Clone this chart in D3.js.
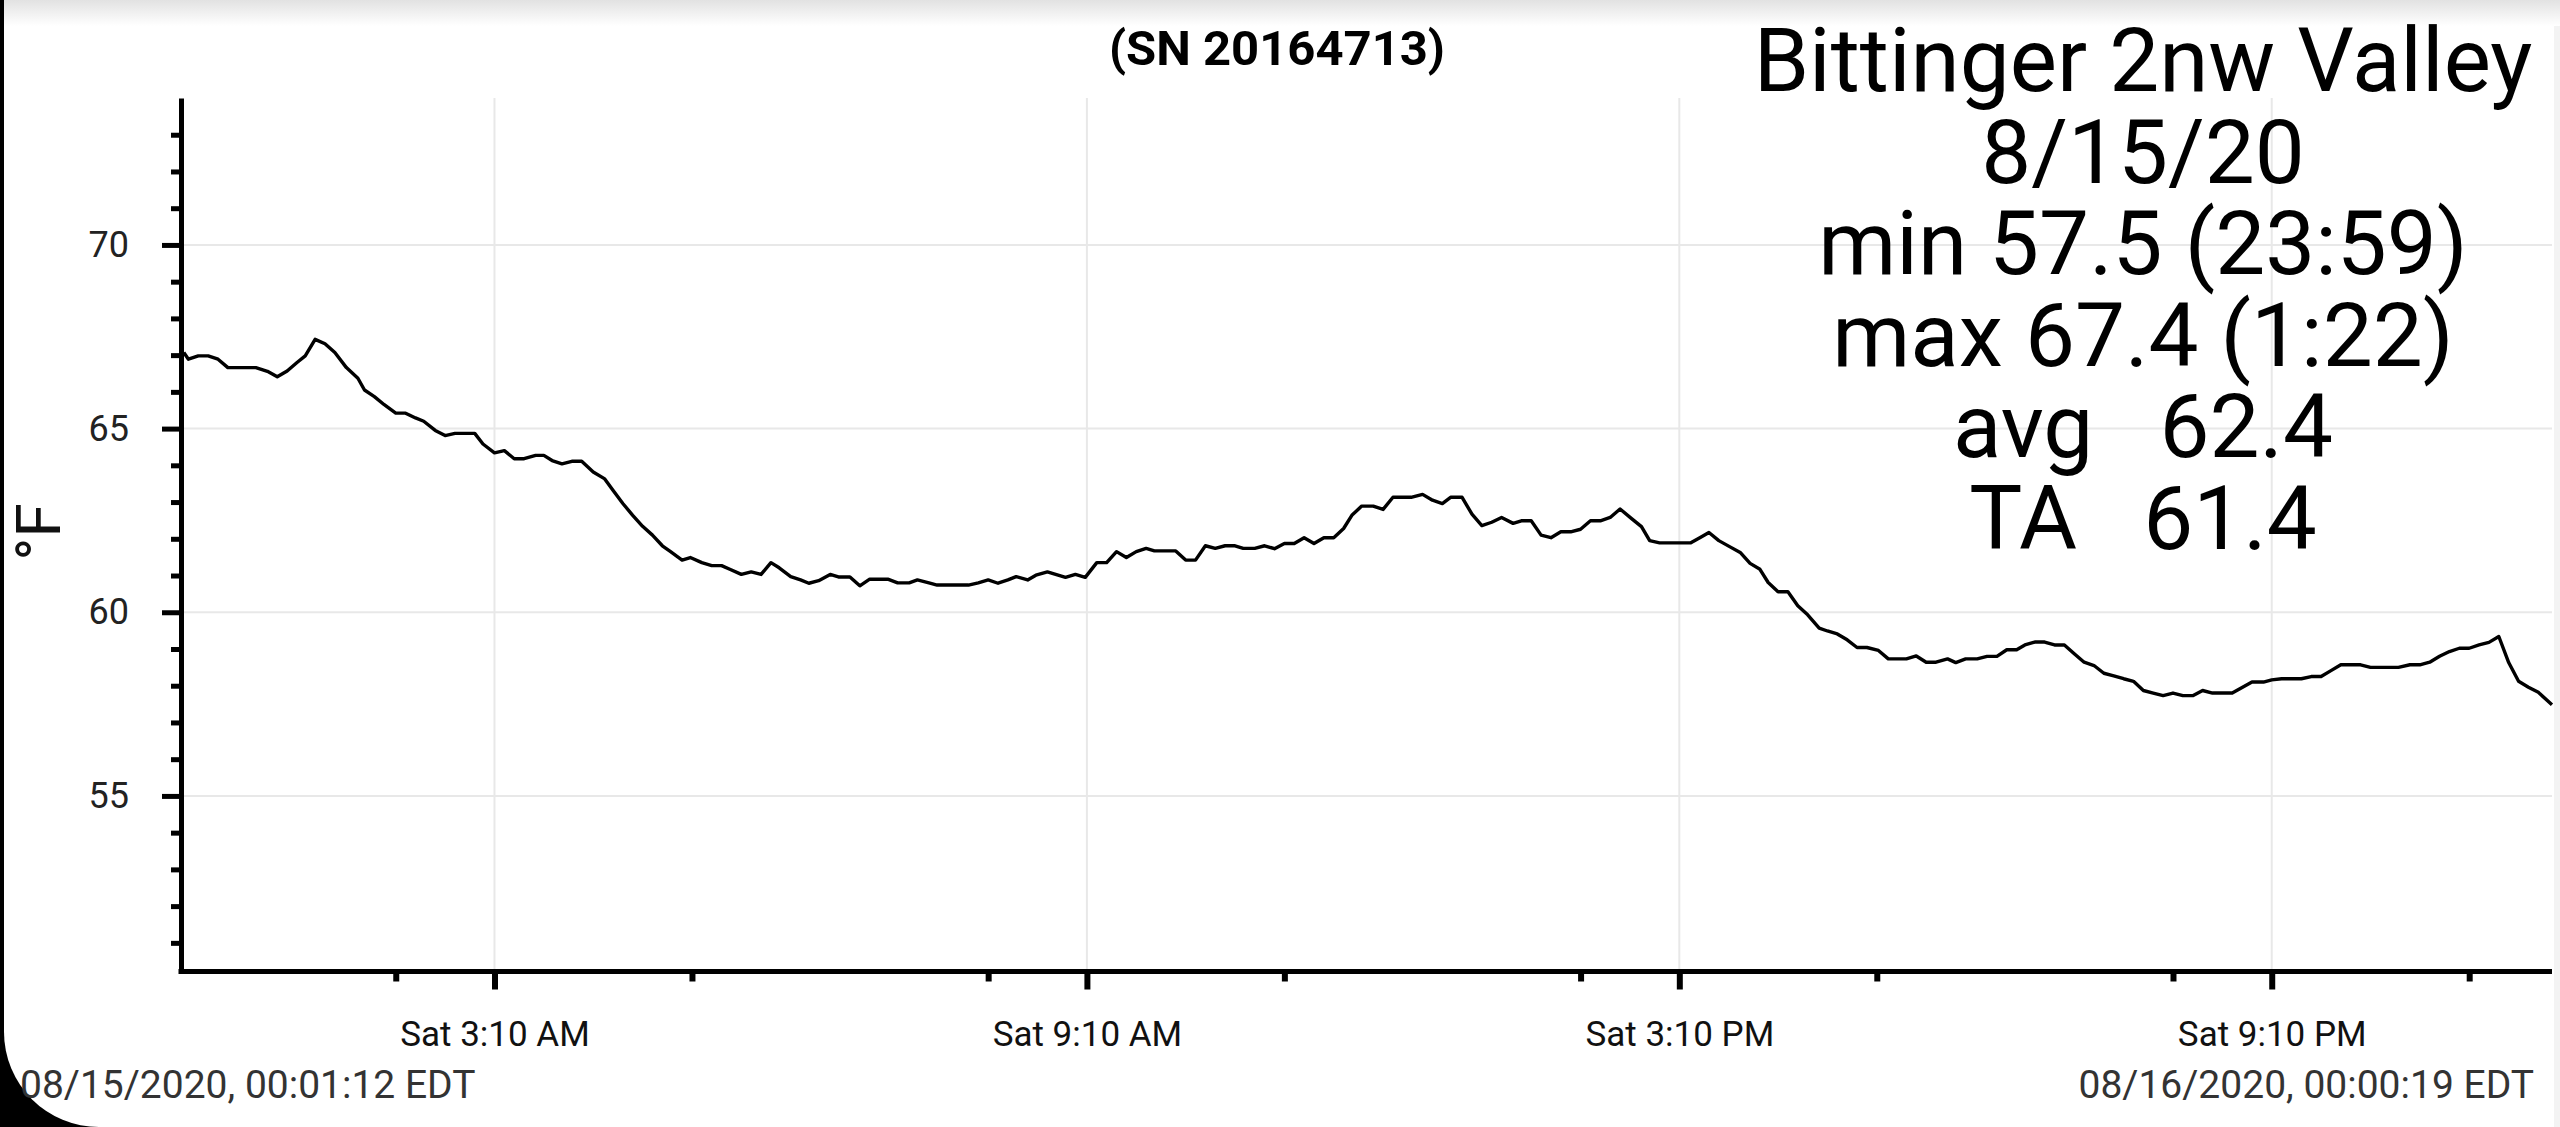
<!DOCTYPE html>
<html>
<head>
<meta charset="utf-8">
<script src="https://cdn.jsdelivr.net/npm/d3@7"></script>
<style>
    html, body { margin: 0; padding: 0; background: #000; overflow: hidden; }
    svg { display: block; font-family: Roboto, "Noto Sans", sans-serif; }
</style>
</head>
<body>
<svg id="chart" width="2560" height="1127"></svg>
<script>
// minutes after midnight 08/15/2020 and temperature (F)
var minutes = [1.2, 4, 10, 16, 22, 28, 45, 52, 58, 64, 70, 75, 81, 87, 93, 100, 107, 111, 117, 123,
    130, 136, 142, 147, 154, 160, 166, 178, 183, 190, 196, 202, 208, 215, 220, 225, 231, 237, 243, 250,
    257, 262, 268, 274, 280, 286, 292, 297, 304, 309, 316, 322, 328, 333, 340, 346, 352,
    358, 363, 370, 376, 381, 387, 394, 399, 406, 412, 418, 429, 435, 442, 447, 454, 459, 478, 484,
    490, 496, 502, 507, 514, 519, 526, 531, 537, 543, 549, 556, 562, 568, 574, 580, 586, 591, 604,
    610, 616, 622, 628, 634, 640, 645, 652, 658, 664, 670, 676, 682, 688, 694, 700, 706, 711,
    717, 724, 730, 736, 747, 754, 760, 766, 771, 778, 784, 790, 796, 802, 809, 814, 820, 826, 832,
    838, 844, 850, 856, 862, 868, 874, 881, 887, 892, 898, 917, 923, 928, 934, 940, 947, 953, 959,
    964, 970, 976, 982, 988, 995, 1000, 1006, 1012, 1018, 1024, 1031, 1037, 1048, 1054, 1060, 1066, 1073,
    1078, 1084, 1091, 1097, 1103, 1109, 1115, 1120, 1126, 1132, 1138, 1144, 1150, 1156, 1162, 1168,
    1174, 1180, 1186, 1192, 1198, 1204, 1210, 1216, 1222, 1228, 1234, 1246, 1252, 1258, 1265, 1270,
    1276, 1288, 1294, 1300, 1306, 1312, 1324, 1330, 1347, 1354, 1360, 1366, 1372, 1378, 1384, 1390,
    1396, 1402, 1408, 1414, 1420, 1426, 1432, 1440.3];
var temps = [67.07, 66.89, 66.98, 66.98, 66.89, 66.66, 66.66, 66.56, 66.41, 66.57, 66.80, 66.98, 67.43, 67.31, 67.07, 66.66, 66.37, 66.05, 65.87, 65.65,
    65.42, 65.42, 65.29, 65.20, 64.95, 64.81, 64.87, 64.87, 64.58, 64.34, 64.40, 64.18, 64.18, 64.27, 64.27, 64.13, 64.04, 64.11, 64.11, 63.82,
    63.63, 63.32, 62.96, 62.64, 62.34, 62.10, 61.81, 61.65, 61.42, 61.49, 61.35, 61.27, 61.27, 61.17, 61.03, 61.10, 61.03,
    61.35, 61.21, 60.97, 60.88, 60.79, 60.86, 61.03, 60.96, 60.96, 60.72, 60.90, 60.90, 60.80, 60.80, 60.88, 60.80, 60.74, 60.74, 60.80,
    60.88, 60.79, 60.88, 60.97, 60.88, 61.01, 61.10, 61.03, 60.95, 61.03, 60.95, 61.35, 61.35, 61.65, 61.49, 61.65, 61.74, 61.67, 61.67,
    61.42, 61.42, 61.81, 61.74, 61.81, 61.81, 61.74, 61.74, 61.81, 61.73, 61.87, 61.87, 62.03, 61.87, 62.03, 62.03, 62.28, 62.64,
    62.89, 62.89, 62.80, 63.13, 63.13, 63.21, 63.05, 62.96, 63.13, 63.13, 62.67, 62.36, 62.45, 62.58, 62.42, 62.49, 62.49, 62.10, 62.03,
    62.19, 62.19, 62.26, 62.49, 62.49, 62.58, 62.81, 62.55, 62.33, 61.95, 61.89, 61.89, 62.04, 62.17, 61.95, 61.80, 61.63, 61.33, 61.17,
    60.81, 60.56, 60.56, 60.18, 59.93, 59.57, 59.49, 59.41, 59.25, 59.04, 59.04, 58.96, 58.73, 58.73, 58.81, 58.64, 58.64, 58.73,
    58.63, 58.73, 58.73, 58.80, 58.80, 58.98, 58.98, 59.11, 59.19, 59.19, 59.11, 59.11, 58.87, 58.64, 58.55, 58.34,
    58.27, 58.19, 58.12, 57.87, 57.80, 57.73, 57.80, 57.73, 57.73, 57.87, 57.80, 57.80, 57.95, 58.10, 58.10, 58.16,
    58.19, 58.19, 58.25, 58.25, 58.41, 58.57, 58.57, 58.50, 58.50, 58.57, 58.57, 58.64, 58.80, 58.93, 59.02, 59.02,
    59.11, 59.18, 59.34, 58.63, 58.12, 57.96, 57.82, 57.48];

var yMajorTicks = [55, 60, 65, 70];
var yMinorTicks = [51, 52, 53, 54, 56, 57, 58, 59, 61, 62, 63, 64, 66, 67, 68, 69, 71, 72, 73];
// hours (from midnight 8/15) at 10 minutes past
var xMajorHours = [3, 9, 15, 21];
var xMinorHours = [2, 5, 8, 11, 14, 17, 20, 23];

var titleText = "(SN 20164713)";
var infoLines = ["Bittinger 2nw Valley", "8/15/20", "min 57.5 (23:59)", "max 67.4 (1:22)", "avg   62.4", "TA   61.4"];
var startLabel = "08/15/2020, 00:01:12 EDT";
var endLabel = "08/16/2020, 00:00:19 EDT";
var yLabel = "\u00B0F";

var W = 2560, H = 1127;
// plot box (window.top is read-only, so no "top" here)
var axisX = 181, plotLeft = 183.8, plotRight = 2552, plotTop = 98, plotBottom = 971.5;

function at(mins) {
    return new Date(2020, 7, 15, 0, 0, 0, Math.round(mins * 60000));
}

var svg = d3.select("#chart");

// phone-screenshot frame: black border, rounded lower-left corner, grey fade on top
var defs = svg.append("defs");
var fade = defs.append("linearGradient").attr("id", "topfade").attr("x1", 0).attr("y1", 0).attr("x2", 0).attr("y2", 1);
fade.append("stop").attr("offset", 0).attr("stop-color", "#e2e2e2");
fade.append("stop").attr("offset", 1).attr("stop-color", "#ffffff");

var r = 95;
svg.append("path")
    .attr("d", "M4,0 H" + W + " V" + H + " H" + (4 + r) + " A" + r + "," + r + " 0 0 1 4," + (H - r) + " Z")
    .attr("fill", "#fff");
svg.append("rect").attr("x", 4).attr("y", 0).attr("width", W - 4).attr("height", 26).attr("fill", "url(#topfade)");
svg.append("rect").attr("x", 2554).attr("y", 26).attr("width", 6).attr("height", H - 26).attr("fill", "#f3f3f3");

var x = d3.scaleTime()
    .domain([at(1.2), at(1440 + 19 / 60)])
    .range([plotLeft, plotRight]);

var y = d3.scaleLinear()
    .domain([50.22, 74.0])
    .range([plotBottom, plotTop]);

var majorDates = xMajorHours.map(function (h) { return at(h * 60 + 10); });
var minorDates = xMinorHours.map(function (h) { return at(h * 60 + 10); });

// grid
svg.append("g").selectAll("line")
    .data(yMajorTicks).enter().append("line")
    .attr("x1", axisX).attr("x2", plotRight)
    .attr("y1", function (d) { return y(d); }).attr("y2", function (d) { return y(d); })
    .attr("stroke", "#e8e8e8").attr("stroke-width", 2);

svg.append("g").selectAll("line")
    .data(majorDates).enter().append("line")
    .attr("x1", function (d) { return x(d); }).attr("x2", function (d) { return x(d); })
    .attr("y1", plotTop).attr("y2", plotBottom)
    .attr("stroke", "#e8e8e8").attr("stroke-width", 2);

// data line
var pts = minutes.map(function (m, i) { return { t: at(m), v: temps[i] }; });
var line = d3.line()
    .x(function (d) { return x(d.t); })
    .y(function (d) { return y(d.v); });

svg.append("path")
    .datum(pts)
    .attr("d", line)
    .attr("fill", "none")
    .attr("stroke", "#000")
    .attr("stroke-width", 3.4)
    .attr("stroke-linejoin", "round");

// y axis
var yAxis = d3.axisLeft(y).tickValues(yMajorTicks).tickSize(19).tickPadding(33).tickSizeOuter(0);
var yg = svg.append("g").attr("transform", "translate(" + axisX + ",0)").call(yAxis);
yg.select(".domain").attr("stroke-width", 5);
yg.selectAll(".tick line").attr("stroke-width", 5);
yg.selectAll(".tick text").attr("font-size", 36).attr("font-family", "Roboto").attr("fill", "#222");

var yMinor = d3.axisLeft(y).tickValues(yMinorTicks).tickSize(10).tickFormat("").tickSizeOuter(0);
var ymg = svg.append("g").attr("transform", "translate(" + axisX + ",0)").call(yMinor);
ymg.select(".domain").remove();
ymg.selectAll(".tick line").attr("stroke-width", 5);

// x axis
var xAxis = d3.axisBottom(x).tickValues(majorDates).tickSize(18).tickPadding(32).tickSizeOuter(0)
    .tickFormat(d3.timeFormat("%a %-I:%M %p"));
var xg = svg.append("g").attr("transform", "translate(0," + plotBottom + ")").call(xAxis);
xg.select(".domain").attr("d", "M" + (axisX - 2.5) + ",0H" + plotRight).attr("stroke-width", 5);
xg.selectAll(".tick line").attr("stroke-width", 6);
xg.selectAll(".tick text").attr("font-size", 35).attr("font-family", "Roboto").attr("fill", "#111");

var xMinor = d3.axisBottom(x).tickValues(minorDates).tickSize(10).tickFormat("").tickSizeOuter(0);
var xmg = svg.append("g").attr("transform", "translate(0," + plotBottom + ")").call(xMinor);
xmg.select(".domain").remove();
xmg.selectAll(".tick line").attr("stroke-width", 6);

// y label
svg.append("text")
    .attr("transform", "translate(60,532) rotate(-90)")
    .attr("text-anchor", "middle")
    .attr("font-size", 62)
    .attr("fill", "#111")
    .text(yLabel);

// title
svg.append("text")
    .attr("x", 1277).attr("y", 65)
    .attr("text-anchor", "middle")
    .attr("font-size", 49)
    .attr("font-weight", "bold")
    .attr("fill", "#000")
    .text(titleText);

// summary block
svg.append("g").selectAll("text")
    .data(infoLines).enter().append("text")
    .attr("x", 2143)
    .attr("y", function (d, i) { return 91 + i * 91.5; })
    .attr("text-anchor", "middle")
    .attr("font-size", 89)
    .attr("fill", "#000")
    .style("white-space", "pre")
    .text(function (d) { return d; });

// start / end stamps
svg.append("text")
    .attr("x", 20).attr("y", 1098)
    .attr("font-size", 39)
    .attr("fill", "#333")
    .text(startLabel);

svg.append("text")
    .attr("x", 2534).attr("y", 1098)
    .attr("text-anchor", "end")
    .attr("font-size", 39)
    .attr("fill", "#333")
    .text(endLabel);
</script>
</body>
</html>
